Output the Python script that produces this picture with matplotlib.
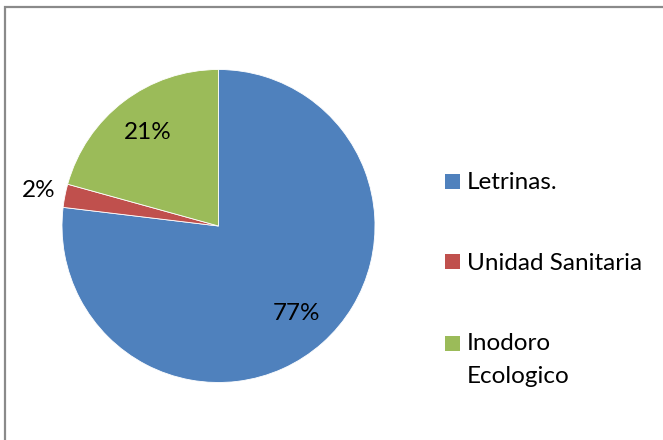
import numpy as np
import matplotlib
matplotlib.use("Agg")
import matplotlib.pyplot as plt
from matplotlib.patches import Rectangle

categories = ["Letrinas.", "Unidad Sanitaria", "Inodoro\nEcologico"]
values = [76.9, 2.4, 20.7]
colors = ["#4F81BD", "#C0504D", "#9BBB59"]

W, H = 663, 440
fig = plt.figure(figsize=(W / 100, H / 100), dpi=100)
plt.rcParams['font.family'] = ['Lato', 'DejaVu Sans']
FS = 17.5

# pie circle center (218,226) px from top-left, radius 156.5
cx, cy, r = 218.5, 226, 156.5
ax = fig.add_axes([(cx - r) / W, (H - cy - r) / H, 2 * r / W, 2 * r / H])
wedges, _ = ax.pie(values, colors=colors, startangle=90, counterclock=False,
                   radius=1, wedgeprops=dict(edgecolor="white", linewidth=0.6))
ax.set_xlim(-1, 1)
ax.set_ylim(-1, 1)
ax.set_aspect("equal")
ax.axis("off")

total = sum(values)
dists = [0.75, 1.17, 0.75]
start = 90.0
for v, d in zip(values, dists):
    span = 360.0 * v / total
    mid = np.deg2rad(start - span / 2)
    ax.text(d * np.cos(mid), d * np.sin(mid), f"{round(100 * v / total)}%",
            ha="center", va="center", fontsize=FS, color="black")
    start -= span

# legend drawn manually (pixel positions from top-left)
def fx(x):
    return x / W

def fy(y):
    return 1 - y / H

sq_tops = [174, 254, 336]
baselines = [189, 270, 350]
for c, lab, t, b in zip(colors, categories, sq_tops, baselines):
    fig.add_artist(Rectangle((fx(445), fy(t + 15)), 15 / W, 15 / H,
                             transform=fig.transFigure, facecolor=c,
                             edgecolor="none"))
    lines = lab.split("\n")
    for i, ln in enumerate(lines):
        fig.text(fx(467), fy(b + 33 * i), ln, ha="left", va="baseline",
                 fontsize=FS, color="black")

# outer border
fig.add_artist(Rectangle((fx(5), -0.1), 1.2, fy(7) + 0.1,
                         transform=fig.transFigure, facecolor="none",
                         edgecolor="#8a8a8a", linewidth=1.6))

fig.savefig("out.png", dpi=100, facecolor="white")
